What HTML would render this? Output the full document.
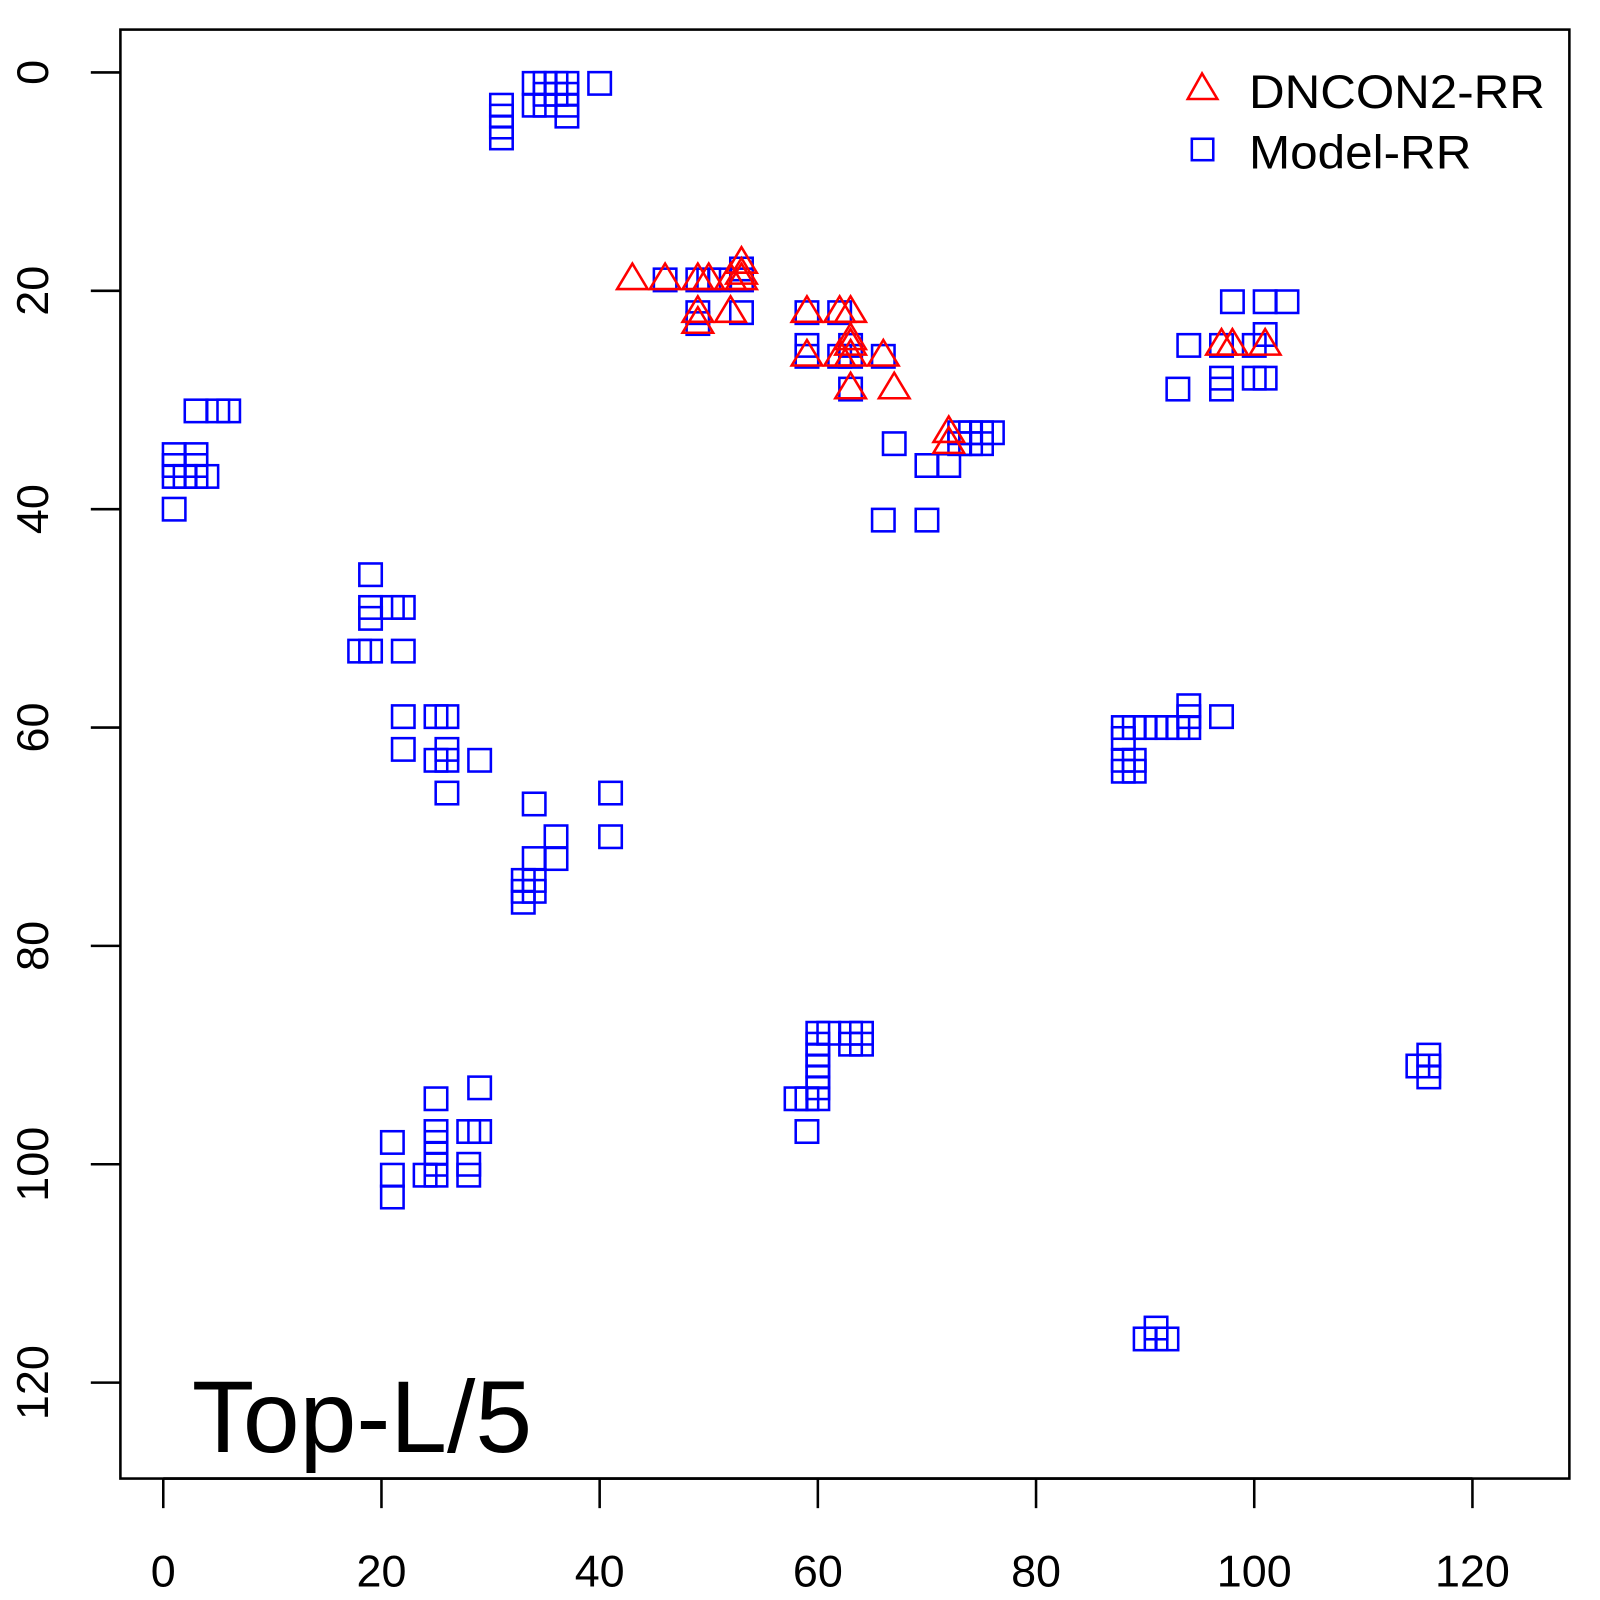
<!DOCTYPE html>
<html><head><meta charset="utf-8"><style>body{margin:0;background:#fff}svg{display:block}text{font-family:"Liberation Sans",sans-serif}</style></head>
<body>
<svg id="chart" width="1600" height="1600" xmlns="http://www.w3.org/2000/svg">
<g transform="scale(1.0204)">
<rect x="118" y="29" width="1420" height="1420" fill="none" stroke="#000" stroke-width="2.5"/>
<g id="axes"></g>
<g id="marks"></g>
<g>
<polygon points="1178,72 1164,97 1193,97" fill="none" stroke="#f00" stroke-width="2.5"/>
<text x="1224" y="106" font-size="46" textLength="290" lengthAdjust="spacingAndGlyphs">DNCON2-RR</text>
<rect x="1168" y="136" width="21" height="21" fill="none" stroke="#00f" stroke-width="2.5"/>
<text x="1224" y="165" font-size="46" textLength="218" lengthAdjust="spacingAndGlyphs">Model-RR</text>
</g>
<text x="188" y="1423" font-size="100">Top-L/5</text>
</g>
</svg>
<script>
const xTicks=[0,20,40,60,80,100,120];
const yTicks=[0,20,40,60,80,100,120];
const modelX=[31,31,31,31,34,34,35,35,35,36,36,37,37,37,37,40,
3,5,6,1,3,1,3,1,2,3,4,1,
19,19,19,21,22,18,19,22,22,25,26,22,25,26,26,26,29,
34,36,34,36,33,34,33,34,33,41,41,
46,49,50,51,53,53,49,49,53,59,62,59,59,62,63,63,66,63,67,70,72,66,70,73,74,75,76,73,74,75,
98,101,103,94,97,100,101,93,97,97,100,101,
88,89,90,91,92,93,94,94,94,97,88,88,89,88,89,
60,61,60,60,60,60,60,60,58,59,59,63,64,63,64,
116,115,116,116,91,90,91,92,
21,21,21,25,25,25,25,25,24,25,29,28,29,28,28];
const modelY=[3,4,5,6,1,3,1,2,3,1,2,1,2,3,4,1,
31,31,31,35,35,36,36,37,37,37,37,40,
46,49,50,49,49,53,53,53,59,59,59,62,63,62,63,66,63,
67,70,72,72,74,74,75,75,76,66,70,
19,19,19,19,18,19,22,23,22,22,22,25,26,26,25,26,26,29,34,36,36,41,41,33,33,33,33,34,34,34,
21,21,21,25,25,25,24,29,28,29,28,28,
60,60,60,60,60,60,60,58,59,59,61,63,63,64,64,
88,88,89,90,91,92,93,94,94,94,97,88,88,89,89,
90,91,91,92,115,116,116,116,
98,101,103,94,97,98,99,100,101,101,93,97,97,100,101];
const dnX=[43,46,49,50,52,53,53,53,49,49,52,59,62,63,59,62,63,63,63,66,63,67,72,72,97,98,101];
const dnY=[19,19,19,19,19,18.5,19,17.5,22,23,22,22,22,22,26,26,26,25,24.5,26,29,29,33,34,25,25,25];
const sx=v=>160+v*1283/120, sy=v=>71+v*1284/120;
const NS='http://www.w3.org/2000/svg';
const axes=document.getElementById('axes'), marks=document.getElementById('marks');
function mk(t,a,p){const e=document.createElementNS(NS,t);for(const k in a)e.setAttribute(k,a[k]);p.appendChild(e);return e;}
xTicks.forEach(v=>{
 const l=mk('line',{x1:sx(v),x2:sx(v),y1:1449,y2:1478,stroke:'#000','stroke-width':2.5},axes);
 
 
 const t=mk('text',{x:sx(v),y:1555,'font-size':44,'text-anchor':'middle'},axes);t.textContent=v;
 
 
});
mk('line',{x1:sx(0),x2:sx(120),y1:1449,y2:1449,stroke:'#000','stroke-width':2.5},axes);
yTicks.forEach(v=>{
 const l=mk('line',{x1:89,x2:118,y1:sy(v),y2:sy(v),stroke:'#000','stroke-width':2.5},axes);
 
 
 const t=mk('text',{x:0,y:0,'font-size':44,'text-anchor':'middle',transform:`translate(47,${sy(v)}) rotate(-90)`},axes);t.textContent=v;
 
 
});
modelX.forEach((x,i)=>{
 const r=mk('rect',{x:sx(x)-11,y:sy(modelY[i])-11,width:22,height:22,fill:'none',stroke:'#00f','stroke-width':2.5},marks);
 
 
});
dnX.forEach((x,i)=>{
 const cx=sx(x),cy=sy(dnY[i]);
 const p=mk('polygon',{points:`${cx},${cy-16} ${cx-15},${cy+9} ${cx+15},${cy+9}`,fill:'none',stroke:'#f00','stroke-width':2.5},marks);
 
 
});
</script>
</body></html>
